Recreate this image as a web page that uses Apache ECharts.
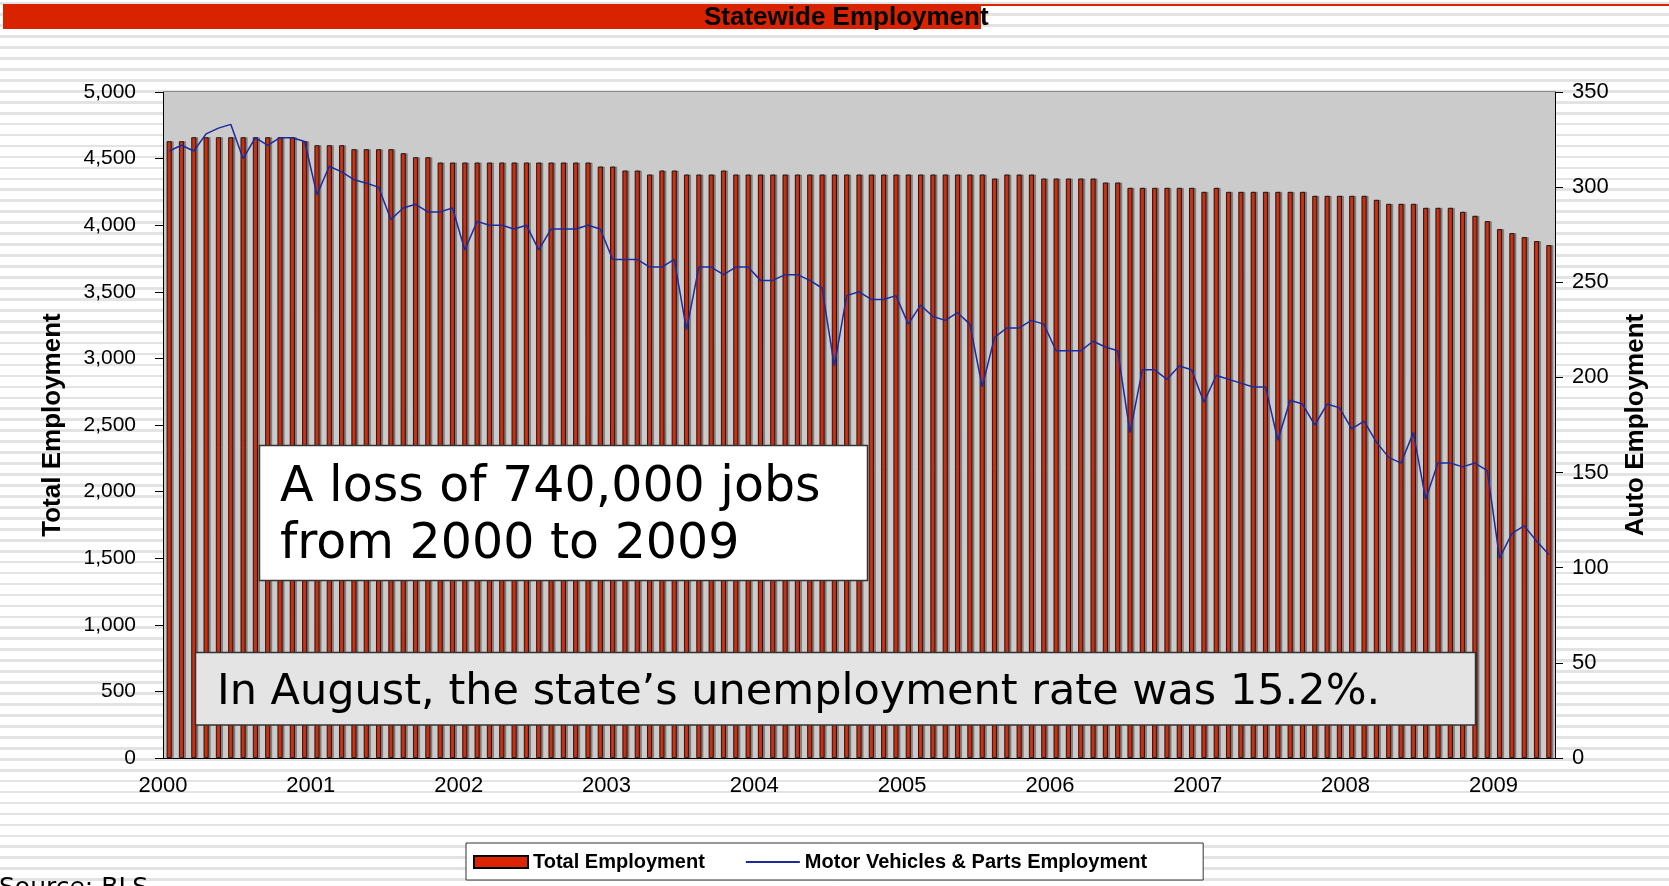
<!DOCTYPE html>
<html>
<head>
<meta charset="utf-8">
<script src="https://cdn.jsdelivr.net/npm/echarts@6.0.0/dist/echarts.min.js"></script>
<style>
html,body{margin:0;padding:0;width:1669px;height:886px;overflow:hidden;
background:repeating-linear-gradient(to bottom,#fff 0px,#fff 2.35px,#e3e3e3 2.35px,#e3e3e3 5.05px,#fff 5.05px,#fff 10.95px);}
#chart{width:1669px;height:886px;}
</style>
</head>
<body>
<div id="chart"></div>
<script>
// ---- data ----
const years = ['2000','2001','2002','2003','2004','2005','2006','2007','2008','2009'];

// Total employment (thousands), monthly Jan 2000 - May 2009
const totalEmployment = [
  4630,4630,4660,4660,4660,4660,4660,4660,4660,4660,4660,4630,
  4600,4600,4600,4570,4570,4570,4570,4540,4510,4510,4470,4470,
  4470,4470,4470,4470,4470,4470,4470,4470,4470,4470,4470,4440,
  4440,4410,4410,4380,4410,4410,4380,4380,4380,4410,4380,4380,
  4380,4380,4380,4380,4380,4380,4380,4380,4380,4380,4380,4380,
  4380,4380,4380,4380,4380,4380,4380,4350,4380,4380,4380,4350,
  4350,4350,4350,4350,4320,4320,4280,4280,4280,4280,4280,4280,
  4250,4280,4250,4250,4250,4250,4250,4250,4250,4220,4220,4220,
  4220,4220,4190,4160,4160,4160,4130,4130,4130,4100,4070,4030,
  3970,3940,3910,3880,3850
];

// Motor vehicles & parts employment (thousands), monthly Jan 2000 - May 2009
const autoEmployment = [
  319,322,319,328,331,333,315,326,322,326,326,324,
  296,311,308,304,302,300,283,289,291,287,287,289,
  267,282,280,280,278,280,267,278,278,278,280,278,
  262,262,262,258,258,262,225,258,258,254,258,258,
  251,251,254,254,251,247,206,243,245,241,241,243,
  228,238,232,230,234,228,195,221,226,226,230,228,
  214,214,214,219,216,214,171,204,204,199,206,204,
  187,201,199,197,195,195,167,188,186,175,186,184,
  173,177,166,158,155,171,136,155,155,153,155,151,
  105,118,122,114,107
];

const leftAxis = {min: 0, max: 5000, interval: 500};
const rightAxis = {min: 0, max: 350, interval: 50};

const categories = [];
years.forEach(y => { for (let m = 1; m <= 12; m++) categories.push(y + '-' + String(m).padStart(2, '0')); });
categories.length = totalEmployment.length;

// ---- chart ----
const SANS = "'Liberation Sans',Arial,sans-serif";
const chart = echarts.init(document.getElementById('chart'));
const yearStart = (i) => i % 12 === 0;

chart.setOption({
  backgroundColor: 'transparent',
  animation: false,
  grid: {left: 163, right: 114, top: 92, bottom: 128, show: true, backgroundColor: '#cbcbcb', borderWidth: 0},
  legend: {
    left: 466, top: 843, itemWidth: 54, itemHeight: 12, itemGap: 40,
    padding: [9, 56, 8, 7], backgroundColor: '#fff', borderColor: '#333', borderWidth: 1,
    textStyle: {fontFamily: SANS, fontWeight: 'bold', fontSize: 20, color: '#000'},
    data: [
      {name: 'Total Employment', icon: 'rect'},
      {name: 'Motor Vehicles & Parts Employment', itemStyle: {opacity: 0}}
    ]
  },
  xAxis: {
    type: 'category', data: categories, boundaryGap: true,
    axisLine: {lineStyle: {color: '#000', width: 1}},
    axisTick: {interval: yearStart, length: 9, lineStyle: {color: '#333'}},
    axisLabel: {interval: yearStart, formatter: v => v.slice(0, 4), fontFamily: SANS, fontSize: 22,
      color: '#000', margin: 17, padding: [0, 12.3, 0, 0]}
  },
  yAxis: [{
    type: 'value', position: 'left', min: leftAxis.min, max: leftAxis.max, interval: leftAxis.interval,
    axisLine: {show: true, lineStyle: {color: '#000'}},
    axisTick: {show: true, length: 8, lineStyle: {color: '#000'}},
    splitLine: {show: false},
    axisLabel: {formatter: v => v.toLocaleString('en-US'), fontFamily: SANS, fontSize: 21, color: '#000', margin: 27},
    name: 'Total Employment', nameLocation: 'middle', nameGap: 97, nameRotate: 90,
    nameTextStyle: {fontFamily: SANS, fontWeight: 'bold', fontSize: 26, color: '#000'}
  }, {
    type: 'value', position: 'right', min: rightAxis.min, max: rightAxis.max, interval: rightAxis.interval,
    axisLine: {show: true, lineStyle: {color: '#000'}},
    axisTick: {show: true, length: 8, lineStyle: {color: '#000'}},
    splitLine: {show: false},
    axisLabel: {fontFamily: SANS, fontSize: 22, color: '#000', margin: 17},
    name: 'Auto Employment', nameLocation: 'middle', nameGap: 68, nameRotate: 90,
    nameTextStyle: {fontFamily: SANS, fontWeight: 'bold', fontSize: 26, color: '#000'}
  }],
  series: [{
    name: 'Total Employment', type: 'bar', data: totalEmployment, barWidth: 5,
    itemStyle: {color: '#dc2400', borderColor: '#000', borderWidth: 0.8,
      shadowColor: 'rgba(100,100,100,0.7)', shadowOffsetX: 2, shadowOffsetY: 0, shadowBlur: 0}
  }, {
    name: 'Motor Vehicles & Parts Employment', type: 'line', yAxisIndex: 1, data: autoEmployment,
    symbol: 'none', lineStyle: {color: '#1d2a9e', width: 1.5}, itemStyle: {color: '#1d2a9e'}
  }],
  graphic: [
    {type: 'rect', left: 3, top: 4, shape: {width: 978, height: 25}, style: {fill: '#d92300'}, z: 100},
    {type: 'rect', left: 981, top: 4, shape: {width: 700, height: 2}, style: {fill: '#d92300'}, z: 100},
    {type: 'text', left: 704, top: 5, style: {text: 'Statewide Employment', fill: '#000',
      font: "bold 26px 'Liberation Sans',Arial,sans-serif"}, z: 101},
    {type: 'line', shape: {x1: 163, y1: 91.5, x2: 1555, y2: 91.5}, style: {stroke: '#8a8a8a', lineWidth: 1}, z: 100},
    {type: 'rect', shape: {x: 259.5, y: 445.5, width: 608, height: 135}, style: {fill: '#fff', stroke: '#333', lineWidth: 1.5}, z: 100},
    {type: 'text', x: 280, y: 517, style: {text: 'A loss of 740,000 jobs\nfrom 2000 to 2009', fill: '#000',
      font: "49px 'DejaVu Sans',Verdana,sans-serif", lineHeight: 57, verticalAlign: 'middle', align: 'left'}, z: 101},
    {type: 'rect', shape: {x: 195.5, y: 652.5, width: 1280, height: 72.5}, style: {fill: '#e4e4e4', stroke: '#333', lineWidth: 1.5}, z: 100},
    {type: 'text', x: 217, y: 693, style: {text: 'In August, the state\u2019s unemployment rate was 15.2%.', fill: '#000',
      font: "43px 'DejaVu Sans',Verdana,sans-serif", verticalAlign: 'middle', align: 'left'}, z: 101},
    {type: 'text', x: -1, y: 888, style: {text: 'Source: BLS', fill: '#000',
      font: "25px 'DejaVu Sans',Verdana,sans-serif", verticalAlign: 'middle', align: 'left'}, z: 101}
  ]
});
</script>
</body>
</html>
